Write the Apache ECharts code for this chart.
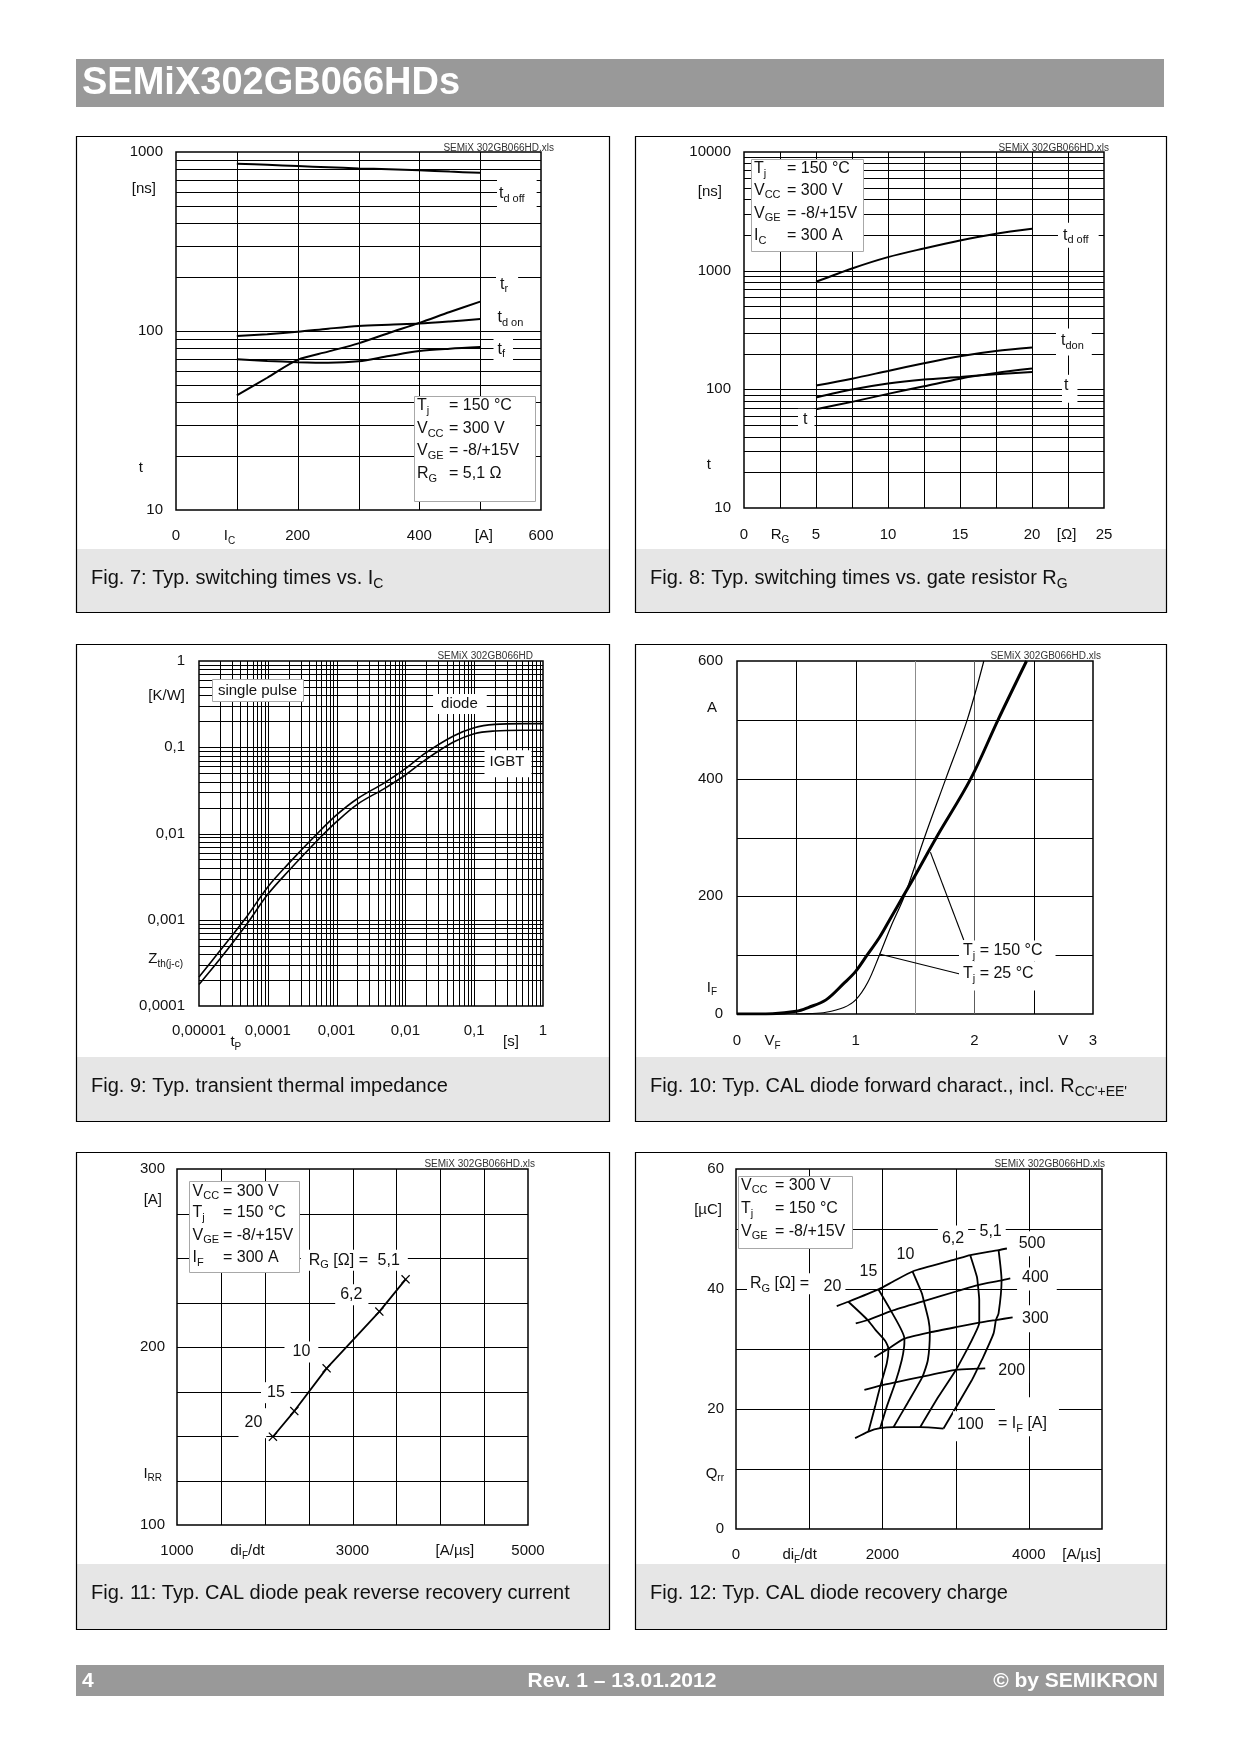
<!DOCTYPE html>
<html><head><meta charset="utf-8">
<script src="https://cdn.jsdelivr.net/npm/echarts/dist/echarts.min.js"></script>
<style>html,body{margin:0;padding:0;background:#fff}#c{width:1240px;height:1754px}</style>
</head><body><div id="c"></div>
<script>
// ================= DATA =================
// Fig 7: switching times vs IC
const fig7IC     = [100,150,200,250,300,350,400,450,500];
const fig7TdOff  = [860,848,835,822,810,800,790,777,765];
const fig7Tr     = [43.7,54.8,69,76.7,85.3,97.5,111,127.7,146];
const fig7TdOn   = [93.8,96,99,103,106.7,108.5,110,113,116.7];
const fig7Tf     = [69.5,68,67,66.5,67.7,72.5,77.3,79.7,81.4];
const fig7XTicks = [0,88,200,400,506,600];
const fig7XLabels= ['0','I_{C}','200','400','[A]','600'];
const fig7YTicks = [10,17.3,100,624,1000];
const fig7YLabels= ['10','t','100','[ns]','1000'];
const fig7XGrid  = [100,200,300,400,500];

// Fig 8: switching times vs RG
const fig8RG     = [5,7.5,10,12.5,15,17.5,20];
const fig8TdOff  = [806,1044,1301,1540,1799,2048,2256];
const fig8TdOn   = [107.6,123,143,166,190,210,225];
const fig8T1     = [85.3,99.6,112,121,127,134,140];
const fig8T2     = [68,78.4,91.6,106,123,137.6,149.8];
const fig8XTicks = [0,2.5,5,10,15,20,22.4,25];
const fig8XLabels= ['0','R_{G}','5','10','15','20','[Ω]','25'];
const fig8YTicks = [10,23.2,100,1000,4600,10000];
const fig8YLabels= ['10','t','100','1000','[ns]','10000'];
const fig8XGrid  = [2.5,5,7.5,10,12.5,15,17.5,20,22.5];

// Fig 9: transient thermal impedance
const fig9Tp     = [1e-5,2e-5,5e-5,1e-4,2e-4,5e-4,1e-3,2e-3,5e-3,1e-2,2e-2,5e-2,0.1,0.2,0.5,1];
const fig9Diode  = [2.17e-4,4.34e-4,1.10e-3,2.4e-3,4.47e-3,9.6e-3,0.0164,0.0253,0.0389,0.0565,0.0865,0.135,0.1687,0.184,0.1877,0.1877];
const fig9IGBT   = [1.78e-4,3.48e-4,9.0e-4,1.97e-3,3.67e-3,7.96e-3,0.0137,0.0218,0.0334,0.0477,0.0724,0.115,0.1437,0.1543,0.1572,0.1572];
const fig9XTicks = [1e-5,1e-4,1e-3,1e-2,0.1,1];
const fig9XLabels= ['0,00001','0,0001','0,001','0,01','0,1','1'];
const fig9YTicks = [1e-4,3.48e-4,1e-3,1e-2,0.1,0.393,1];
const fig9YLabels= ['0,0001','Z_{th(j-c)}','0,001','0,01','0,1','[K/W]','1'];

// Fig 10: diode forward characteristic
const fig10V150  = [0,0.3,0.5,0.6,0.75,0.9,1.0,1.096,1.2,1.3,1.4,1.5,1.68,1.97,2.2,2.44];
const fig10I150  = [0,0.5,4.5,11,24,52,72.5,100,130,165,200,235,300,400,500,600];
const fig10V25   = [0.5,0.6,0.75,0.9,1.0,1.1,1.2,1.3,1.41,1.58,1.76,1.94,2.08];
const fig10I25   = [0,0.5,3,11,24,53,100,150,200,300,400,500,600];
const fig10Lead150 = [[1.63,275],[1.911,125.8]];
const fig10Lead25  = [[1.2,102],[1.878,68]];
const fig10XTicks = [0,0.3,1,2,2.75,3];
const fig10XLabels= ['0','V_{F}','1','2','V','3'];
const fig10YTicks = [0,45,200,400,521,600];
const fig10YLabels= ['0','I_{F}','200','400','A','600'];

// Fig 11: peak reverse recovery current
const fig11RG    = ['20','15','10','6,2','5,1'];
const fig11DiDt  = [2093,2337,2705,3306,3605];
const fig11IRR   = [149.6,164,188,219.9,238];
const fig11XTicks = [1000,1803,3000,4167,5000];
const fig11XLabels= ['1000','di_{F}/dt','3000','[A/µs]','5000'];
const fig11YTicks = [100,129,200,282.6,300];
const fig11YLabels= ['100','I_{RR}','200','[A]','300'];

// Fig 12: recovery charge (constant IF lines, constant RG lines)
const fig12IF500 = [[1376,37.16],[1535,37.88],[1946,39.93],[2142,41.2],[2411,42.92],[2995,44.92],[3200,45.64],[3587,46.47],[3701,46.75]];
const fig12IF400 = [[1636,34.27],[1800,34.83],[2119,36.32],[2566,37.99],[3040,39.71],[3305,40.65],[3628,41.43],[3747,41.76]];
const fig12IF300 = [[1891,28.61],[2083,30.06],[2301,31.72],[2648,32.77],[3040,33.72],[3323,34.38],[3551,34.83],[3779,35.27]];
const fig12IF200 = [[1754,23.18],[1973,23.9],[2178,24.45],[2548,25.4],[3004,26.51],[3300,26.73],[3405,26.78]];
const fig12IF100 = [[1627,15.14],[1809,16.24],[1969,16.8],[2151,16.97],[2516,16.97],[2835,16.74]];
const fig12RG20  = [[1535,37.88],[1800,34.83],[1900,33.27],[2037,31.39],[2083,30.06],[2060,27.62],[1973,23.9],[1900,20.4],[1809,16.24]];
const fig12RG15  = [[1946,39.93],[2119,36.32],[2301,31.72],[2297,30.39],[2265,28.17],[2178,24.45],[2060,20.4],[1969,16.8]];
const fig12RG10  = [[2411,42.92],[2539,39.26],[2566,37.99],[2630,34.83],[2648,32.77],[2621,28.17],[2548,25.4],[2342,20.97],[2151,16.97]];
const fig12RG62  = [[3200,45.64],[3291,42.04],[3305,40.65],[3323,38.15],[3323,34.38],[3245,32.05],[3177,30.39],[3004,26.51],[2767,22.07],[2516,16.97]];
const fig12RG51  = [[3587,46.47],[3628,41.43],[3587,35.94],[3551,34.83],[3519,32.61],[3359,28.17],[3300,26.73],[3223,24.84],[2835,16.74]];
const fig12XTicks = [0,869,2000,4000,4721];
const fig12XLabels= ['0','di_{F}/dt','2000','4000','[A/µs]'];
const fig12YTicks = [0,9.25,20,40,53.2,60];
const fig12YLabels= ['0','Q_{rr}','20','40','[µC]','60'];

const CAPTIONS = [
  'Fig. 7: Typ. switching times vs. I_{C}',
  'Fig. 8: Typ. switching times vs. gate resistor R_{G}',
  'Fig. 9: Typ. transient thermal impedance',
  "Fig. 10: Typ. CAL diode forward charact., incl. R_{CC'+EE'}",
  'Fig. 11: Typ. CAL diode peak reverse recovery current',
  'Fig. 12: Typ. CAL diode recovery charge'
];

// ================= HELPERS =================
const FF = '"Liberation Sans", Arial, Helvetica, sans-serif';
const INK = '#111';
const RICH = {};
[15,16,20].forEach(sz => {
  const sub = Math.round(sz * 0.68);
  RICH['m' + sz] = {fontSize: sz, lineHeight: Math.round(sz * 1.33), fontFamily: FF, color: INK, fill: INK};
  RICH['s' + sz] = {fontSize: sub, lineHeight: sub, verticalAlign: 'bottom', fontFamily: FF, color: INK, fill: INK};
});
for (let g = 1; g <= 30; g++) RICH['g' + g] = {width: g, lineHeight: 20};

function rt(markup, size) {
  let out = '', last = 0, m;
  const re = /_\{([^}]*)\}/g;
  while ((m = re.exec(markup))) {
    if (m.index > last) out += '{m' + size + '|' + markup.slice(last, m.index) + '}';
    out += '{s' + size + '|' + m[1] + '}';
    last = re.lastIndex;
  }
  if (last < markup.length) out += '{m' + size + '|' + markup.slice(last) + '}';
  return out;
}
function zip(a, b) { return a.map((v, i) => [v, b[i]]); }
function logLines(e0, e1) {
  const out = [];
  for (let e = e0; e < e1; e++) for (let k = 1; k <= 9; k++) {
    if (k === 1 && e === e0) continue;
    out.push(+(k * Math.pow(10, e)).toPrecision(6));
  }
  return out;
}

const FIGS = [
  {grid: [176,152,365,358],
   x: {type:'value', min:0, max:600, ticks: fig7XTicks, labels: fig7XLabels, margin: 16},
   y: {type:'log', min:10, max:1000, ticks: fig7YTicks, labels: fig7YLabels, margin: 13, pad: {'t':20,'[ns]':7}},
   xGrid: fig7XGrid, yGrid: logLines(1,3)},
  {grid: [744,152,360,356],
   x: {type:'value', min:0, max:25, ticks: fig8XTicks, labels: fig8XLabels, margin: 17},
   y: {type:'log', min:10, max:10000, ticks: fig8YTicks, labels: fig8YLabels, margin: 13, pad: {'t':20,'[ns]':9}},
   xGrid: fig8XGrid, yGrid: logLines(1,4)},
  {grid: [199,661,344,345],
   x: {type:'log', min:1e-5, max:1, ticks: fig9XTicks, labels: fig9XLabels, margin: 15},
   y: {type:'log', min:1e-4, max:1, ticks: fig9YTicks, labels: fig9YLabels, margin: 14, pad: {'Z_{th(j-c)}':2}},
   xGrid: logLines(-5,0), yGrid: logLines(-4,0)},
  {grid: [737,661,356,353],
   x: {type:'value', min:0, max:3, ticks: fig10XTicks, labels: fig10XLabels, margin: 17},
   y: {type:'value', min:0, max:600, ticks: fig10YTicks, labels: fig10YLabels, margin: 14, pad: {'A':6,'I_{F}':6}},
   xGrid: [0.5,1,1.5,2,2.5], gray: {'1.5':1, '2':2}, yGrid: [100,200,300,400,500]},
  {grid: [177,1169,351,356],
   x: {type:'value', min:1000, max:5000, ticks: fig11XTicks, labels: fig11XLabels, margin: 16},
   y: {type:'value', min:100, max:300, ticks: fig11YTicks, labels: fig11YLabels, margin: 12, pad: {'[A]':3,'I_{RR}':3}},
   xGrid: [1500,2000,2500,3000,3500,4000,4500], yGrid: [125,150,175,200,225,250,275]},
  {grid: [736,1169,366,360],
   x: {type:'value', min:0, max:5000, ticks: fig12XTicks, labels: fig12XLabels, margin: 16},
   y: {type:'value', min:0, max:60, ticks: fig12YTicks, labels: fig12YLabels, margin: 12, pad: {'[µC]':2}},
   xGrid: [1000,2000,3000,4000], yGrid: [10,20,30,40,50]}
];

function axisLabelCfg(a, isY) {
  const custom = a.ticks.map(t => a.type === 'log' ? (t === a.min ? t * (1 + 1e-9) : (t === a.max ? t * (1 - 1e-9) : t)) : t);
  return {
    show: true, customValues: custom, margin: a.margin,
    fontSize: 15, fontFamily: FF, color: INK, lineHeight: 20,
    formatter: function (v) {
      const val = (typeof v === 'object' && v !== null) ? v.value : v;
      const i = a.ticks.findIndex(t => Math.abs(t - val) <= Math.max(Math.abs(t) * 1e-6, 1e-12));
      if (i < 0) return '';
      const lab = a.labels[i];
      let s = rt(lab, 15);
      if (isY && a.pad && a.pad[lab]) s += '{g' + a.pad[lab] + '| }';
      return s;
    },
    rich: RICH
  };
}
function makeAxis(a, i, isY) {
  const o = {type: a.type, gridIndex: i, min: a.min, max: a.max,
    axisLine: {show: false}, axisTick: {show: false}, splitLine: {show: false},
    minorTick: {show: false}, minorSplitLine: {show: false},
    axisLabel: axisLabelCfg(a, isY)};
  if (a.type === 'log') o.logBase = 10;
  return o;
}
function gridData(f) {
  const d = [];
  f.xGrid.forEach(v => d.push([v, f.y.min, 0, (f.gray && f.gray[String(v)]) || 0]));
  f.yGrid.forEach(v => d.push([f.x.min, v, 1, 0]));
  return d;
}
function gridRender(params, api) {
  const cs = params.coordSys;
  const p = api.coord([api.value(0), api.value(1)]);
  const g = api.value(3);
  const col = g === 1 ? '#8c8c8c' : (g === 2 ? '#5c5c5c' : '#000');
  if (api.value(2) === 0) {
    const px = Math.round(p[0]) + 0.5;
    return {type: 'line', shape: {x1: px, y1: cs.y, x2: px, y2: cs.y + cs.height}, style: {stroke: col, lineWidth: 1}};
  }
  const py = Math.round(p[1]) + 0.5;
  return {type: 'line', shape: {x1: cs.x, y1: py, x2: cs.x + cs.width, y2: py}, style: {stroke: col, lineWidth: 1}};
}
function curve(i, data, w, smooth, extra) {
  return Object.assign({type: 'line', xAxisIndex: i, yAxisIndex: i, data, showSymbol: false, symbol: 'none',
    smooth: smooth, lineStyle: {color: '#000', width: w}, silent: true, z: 3, animation: false}, extra || {});
}

// graphic helpers
function lab(markup, ax, ay, o) {
  o = o || {};
  const size = o.size || 16;
  const pad = o.bg ? (o.pad || [0,0,0,0]) : [0,0,0,0];
  const align = o.align || 'left';
  let x = ax;
  if (align === 'left') x = ax - pad[3];
  else if (align === 'center') x = ax - (pad[3] - pad[1]) / 2;
  else x = ax + pad[1];
  const y = ay - (pad[0] - pad[2]) / 2;
  const style = {text: rt(markup, size), rich: RICH, align: align, verticalAlign: 'middle', fill: INK, font: size + 'px ' + FF};
  if (o.bg) { style.backgroundColor = '#fff'; style.padding = pad; }
  return {type: 'text', x: x, y: y, z: o.z || 100, silent: true, style: style};
}
function ptxt(text, x, y, font, fill, align, z) {
  return {type: 'text', x: x, y: y, z: z || 100, silent: true, style: {text: text, font: font, fill: fill, align: align || 'left', verticalAlign: 'middle'}};
}
function rect(x, y, w, h, style, z) {
  return {type: 'rect', shape: {x: x, y: y, width: w, height: h}, style: style, z: z || 0, silent: true};
}
function condBox(x0, y0, x1, y1, symX, eqX, ys, lines) {
  const out = [rect(x0 + 0.5, y0 + 0.5, x1 - x0, y1 - y0, {fill: '#fff', stroke: '#a8a8a8', lineWidth: 1}, 90)];
  lines.forEach((ln, k) => {
    out.push(lab(ln[0], symX, ys[k], {size: 16}));
    out.push(lab(ln[1], eqX, ys[k], {size: 16}));
  });
  return out;
}

// ================= BUILD =================
const grids = [], xAxes = [], yAxes = [], series = [];
FIGS.forEach((f, i) => {
  grids.push({left: f.grid[0], top: f.grid[1], width: f.grid[2], height: f.grid[3], show: true,
    borderColor: '#000', borderWidth: 1.5, backgroundColor: 'rgba(0,0,0,0)', containLabel: false, outerBoundsMode: 'none'});
  xAxes.push(makeAxis(f.x, i, false));
  yAxes.push(makeAxis(f.y, i, true));
  series.push({type: 'custom', xAxisIndex: i, yAxisIndex: i, renderItem: gridRender, data: gridData(f),
    silent: true, z: 1, clip: false, animation: false});
});

// Fig 7
series.push(curve(0, zip(fig7IC, fig7TdOff), 2, 0.3));
series.push(curve(0, zip(fig7IC, fig7Tr), 2, 0.3));
series.push(curve(0, zip(fig7IC, fig7TdOn), 2, 0.3));
series.push(curve(0, zip(fig7IC, fig7Tf), 2, 0.3));
// Fig 8
series.push(curve(1, zip(fig8RG, fig8TdOff), 2, 0.3));
series.push(curve(1, zip(fig8RG, fig8TdOn), 2, 0.3));
series.push(curve(1, zip(fig8RG, fig8T1), 2, 0.3));
series.push(curve(1, zip(fig8RG, fig8T2), 2, 0.3));
// Fig 9
series.push(curve(2, zip(fig9Tp, fig9Diode), 1.6, 0.35));
series.push(curve(2, zip(fig9Tp, fig9IGBT), 1.6, 0.35));
// Fig 10
series.push(curve(3, zip(fig10V150, fig10I150), 3, 0.35));
series.push(curve(3, zip(fig10V25, fig10I25), 1.2, 0.35));
series.push(curve(3, fig10Lead150, 1.1, false));
series.push(curve(3, fig10Lead25, 1.1, false));
// Fig 11
series.push(curve(4, zip(fig11DiDt, fig11IRR), 1.8, false, {
  showSymbol: true, symbol: 'path://M0,1L1,0L5,4L9,0L10,1L6,5L10,9L9,10L5,6L1,10L0,9L4,5Z',
  symbolSize: 9, itemStyle: {color: '#000'}}));
// Fig 12
[fig12IF500, fig12IF400, fig12IF300, fig12IF200, fig12IF100].forEach(d => series.push(curve(5, d, 1.8, 0.2)));
[fig12RG20, fig12RG15, fig12RG10, fig12RG62, fig12RG51].forEach(d => series.push(curve(5, d, 1.8, 0.2)));

// ---- graphic page furniture ----
const G = [];
G.push(rect(76, 59, 1088, 48, {fill: '#999999'}, 1));
G.push(ptxt('SEMiX302GB066HDs', 82, 84, 'bold 38px ' + FF, '#fff', 'left', 2));
G.push(rect(76, 1665, 1088, 31, {fill: '#999999'}, 1));
G.push(ptxt('4', 82, 1681, 'bold 21px ' + FF, '#fff', 'left', 2));
G.push(ptxt('Rev. 1 – 13.01.2012', 622, 1681, 'bold 21px ' + FF, '#fff', 'center', 2));
G.push(ptxt('© by SEMIKRON', 1158, 1681, 'bold 21px ' + FF, '#fff', 'right', 2));

const PANELS = [[76,136,533,476,549],[635,136,531,476,549],[76,644,533,477,1057],[635,644,531,477,1057],[76,1152,533,477,1564],[635,1152,531,477,1564]];
PANELS.forEach((p, k) => {
  G.push(rect(p[0] + 0.5, p[4], p[2], p[1] + p[3] - p[4], {fill: '#e6e6e6'}, 1));
  G.push(rect(p[0] + 0.5, p[1] + 0.5, p[2], p[3], {fill: 'none', stroke: '#000', lineWidth: 1.2}, 5));
  G.push(lab(CAPTIONS[k], p[0] + 15, p[4] + 29, {size: 20}));
});

const TAGF = '10px ' + FF;
G.push(ptxt('SEMiX 302GB066HD.xls', 554, 148, TAGF, '#333', 'right'));
G.push(ptxt('SEMiX 302GB066HD.xls', 1109, 148, TAGF, '#333', 'right'));
G.push(ptxt('SEMiX 302GB066HD', 533, 656, TAGF, '#333', 'right'));
G.push(ptxt('SEMiX 302GB066HD.xls', 1101, 656, TAGF, '#333', 'right'));
G.push(ptxt('SEMiX 302GB066HD.xls', 535, 1164, TAGF, '#333', 'right'));
G.push(ptxt('SEMiX 302GB066HD.xls', 1105, 1164, TAGF, '#333', 'right'));

// Fig 7 labels
G.push(lab('t_{d off}', 499, 194, {bg: true, pad: [6,12,4,2]}));
G.push(lab('t_{r}', 500, 284.3, {bg: true, pad: [0,10,2,4]}));
G.push(lab('t_{d on}', 497.5, 317.7, {bg: true, pad: [2,4,2,2]}));
G.push(lab('t_{f}', 497.5, 349.3, {bg: true, pad: [3,8,3,4]}));
G.push(...condBox(414, 396, 535, 501, 417, 449, [406,429,451,474],
  [['T_{j}','= 150 °C'],['V_{CC}','= 300 V'],['V_{GE}','= -8/+15V'],['R_{G}','= 5,1 Ω']]));

// Fig 8 labels
G.push(lab('t_{d off}', 1063, 235.3, {bg: true, pad: [2,10,2,5]}));
G.push(lab('t_{don}', 1061, 341, {bg: true, pad: [2,8,4,5]}));
G.push(lab('t', 1064, 385.3, {bg: true, pad: [0,9,7,2]}));
G.push(lab('t', 803, 419.3, {bg: true, pad: [0,7,0,5]}));
G.push(...condBox(751, 159, 863, 251, 754, 787, [168.7,190.3,213.3,236],
  [['T_{j}','= 150 °C'],['V_{CC}','= 300 V'],['V_{GE}','= -8/+15V'],['I_{C}','= 300 A']]));

// Fig 9 labels
G.push(rect(212.5, 679.5, 91, 22, {fill: '#fff', stroke: '#a8a8a8', lineWidth: 1}, 90));
G.push(lab('single pulse', 257.5, 690.5, {size: 15, align: 'center'}));
G.push(lab('diode', 459.4, 704, {size: 15, align: 'center', bg: true, pad: [0,9,0,8]}));
G.push(lab('IGBT', 507, 762.3, {size: 15, align: 'center', bg: true, pad: [2,7,5,5]}));
G.push(lab('t_{P}', 235.8, 1042.3, {size: 15, align: 'center'}));
G.push(lab('[s]', 511, 1042.3, {size: 15, align: 'center'}));

// Fig 10 labels
G.push(lab('T_{j} = 150 °C', 963, 951, {bg: true, pad: [0,13,0,4]}));
G.push(lab('T_{j} = 25 °C', 963, 974, {bg: true, pad: [2,10,6,4]}));

// Fig 11 labels
G.push(lab('R_{G} [Ω] =', 308.8, 1260.3, {bg: true, pad: [0,14,0,8]}));
G.push(lab(fig11RG[4], 388.7, 1260.3, {align: 'center', bg: true, pad: [0,8,0,3]}));
G.push(lab(fig11RG[3], 351.3, 1294.7, {align: 'center', bg: true, pad: [0,6,0,5]}));
G.push(lab(fig11RG[2], 301.4, 1352, {align: 'center', bg: true, pad: [0,8,0,8]}));
G.push(lab(fig11RG[1], 275.9, 1392.7, {align: 'center', bg: true, pad: [0,6,0,6]}));
G.push(lab(fig11RG[0], 253.4, 1422.7, {align: 'center', bg: true, pad: [4,4,5,6]}));
G.push(...condBox(189, 1181, 299, 1272, 192.6, 223, [1191.3,1213,1235.3,1257.7],
  [['V_{CC}','= 300 V'],['T_{j}','= 150 °C'],['V_{GE}','= -8/+15V'],['I_{F}','= 300 A']]));

// Fig 12 labels
G.push(lab('R_{G} [Ω] =', 750, 1283.7, {bg: true, pad: [0,10,0,3]}));
G.push(lab('20', 832.5, 1287, {align: 'center', bg: true, pad: [0,4,0,8]}));
G.push(lab('15', 868.5, 1272, {align: 'center', bg: true, pad: [1,2,1,2]}));
G.push(lab('10', 905.4, 1254.7, {align: 'center', bg: true, pad: [1,2,1,2]}));
G.push(lab('6,2', 953, 1239, {align: 'center', bg: true, pad: [3,4,1,4]}));
G.push(lab('5,1', 990.6, 1232, {align: 'center', bg: true, pad: [3,4,1,4]}));
G.push(lab('500', 1032, 1243.7, {align: 'center', bg: true, pad: [2,6,2,6]}));
G.push(lab('400', 1035.4, 1278, {align: 'center', bg: true, pad: [0,8,2,5]}));
G.push(lab('300', 1035.4, 1318.7, {align: 'center', bg: true, pad: [3,4,3,4]}));
G.push(lab('200', 1011.7, 1370.3, {align: 'center', bg: true, pad: [2,4,2,4]}));
G.push(lab('100', 970.3, 1424.7, {align: 'center', bg: true, pad: [3,4,6,4]}));
G.push(lab('= I_{F} [A]', 998, 1423.7, {bg: true, pad: [16,12,2,3]}));
G.push(...condBox(738, 1176, 852, 1248, 741, 775, [1185.3,1208.7,1231.3],
  [['V_{CC}','= 300 V'],['T_{j}','= 150 °C'],['V_{GE}','= -8/+15V']]));

const option = {
  backgroundColor: '#ffffff',
  animation: false,
  textStyle: {fontFamily: FF},
  grid: grids, xAxis: xAxes, yAxis: yAxes, series: series,
  graphic: {elements: G}
};
const chart = echarts.init(document.getElementById('c'), null, {renderer: 'canvas', width: 1240, height: 1754});
chart.setOption(option);
</script>
</body></html>
